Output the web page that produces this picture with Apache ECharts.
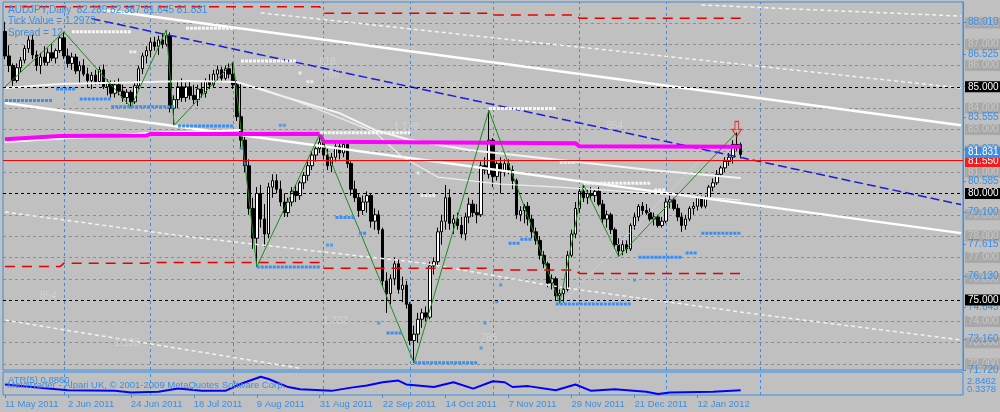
<!DOCTYPE html>
<html><head><meta charset="utf-8">
<script src="https://cdn.jsdelivr.net/npm/echarts@6/dist/echarts.min.js"></script>
<style>html,body{margin:0;padding:0;background:#c0c0c0;}#c{width:1000px;height:412px;}</style>
</head><body><div id="c"></div>
<script>
// ---------- DATA ----------
const xLabels = ['11 May 2011','2 Jun 2011','24 Jun 2011','18 Jul 2011','9 Aug 2011','31 Aug 2011','22 Sep 2011','14 Oct 2011','7 Nov 2011','29 Nov 2011','21 Dec 2011','12 Jan 2012'];
const open = [87.60,86.45,86.00,85.30,85.90,86.25,86.80,87.20,86.50,86.00,
86.40,86.15,86.60,86.35,86.70,87.30,86.45,86.10,86.40,85.75,
86.00,85.60,85.30,85.55,85.25,85.80,85.00,85.15,84.70,85.10,
84.80,84.50,84.75,84.30,85.05,85.85,86.45,86.70,87.10,86.90,
87.20,87.00,87.40,84.00,84.40,85.00,84.50,85.00,84.60,84.40,
84.90,84.70,85.25,85.10,85.60,85.80,85.40,85.85,85.60,85.10,
83.60,82.50,81.30,79.30,77.90,80.00,78.80,78.10,80.30,80.60,
80.20,79.60,79.10,79.60,80.10,79.90,80.50,80.85,81.30,81.80,
82.10,82.40,81.80,81.30,81.70,82.20,81.90,82.30,81.40,80.20,
79.80,79.20,79.60,79.90,78.70,79.00,78.30,75.90,75.30,76.00,
76.70,75.50,75.70,74.80,73.10,73.40,74.10,74.40,74.20,76.60,
76.80,78.20,78.70,79.80,78.60,78.80,78.50,78.10,78.90,79.50,
79.10,79.00,81.30,80.90,82.50,80.80,81.40,81.00,81.40,81.10,
80.60,79.00,79.20,79.40,78.80,78.20,77.80,77.10,76.70,75.80,
76.00,75.20,75.30,75.50,77.10,78.10,79.30,80.10,79.80,80.00,
79.90,80.10,79.50,78.80,79.00,78.30,77.60,77.30,77.60,77.40,
78.50,78.90,79.40,79.20,79.10,78.80,78.90,78.50,78.70,79.60,
79.70,79.30,78.90,78.50,78.80,79.30,79.40,79.80,79.40,79.80,
80.30,80.50,80.90,81.20,81.50,81.70,82.30,82.289];
const high = [88.05,86.95,86.10,86.10,86.40,86.95,87.40,87.45,86.70,86.60,
86.90,86.80,87.00,86.80,87.40,87.58,86.80,86.60,86.55,86.20,
86.30,85.90,85.70,85.80,85.95,86.05,85.35,85.30,85.30,85.40,
85.10,84.90,84.85,85.20,86.00,86.60,86.90,87.30,87.35,87.40,
87.50,87.67,87.55,84.60,85.30,85.40,85.20,85.30,85.10,85.10,
85.20,85.40,85.60,85.80,86.00,85.95,86.00,86.10,86.16,85.30,
85.20,82.70,81.60,79.80,80.30,80.40,79.50,80.50,80.90,80.90,
80.60,80.00,79.80,80.30,80.40,80.60,81.00,81.50,82.00,82.30,
82.78,82.60,82.10,81.90,82.40,82.50,82.45,82.40,81.50,80.60,
80.00,79.90,80.10,80.00,79.30,79.20,78.40,76.30,76.20,77.00,
76.90,76.10,75.90,74.90,73.80,74.40,74.60,74.70,76.80,77.00,
78.40,79.00,80.40,80.20,79.00,79.10,78.90,79.10,79.80,79.70,
79.50,81.50,81.70,83.90,82.60,81.50,81.70,81.60,81.60,81.30,
80.70,79.40,79.50,79.60,79.00,78.40,78.00,77.30,76.80,76.20,
76.10,75.50,75.60,77.30,78.30,79.60,80.30,80.43,80.20,80.30,
80.20,80.30,79.70,79.20,79.10,78.40,77.90,77.80,77.80,78.60,
79.10,79.50,79.60,79.50,79.30,79.10,79.00,78.90,79.80,79.90,
79.80,79.50,79.10,79.00,79.40,79.60,79.90,79.90,79.90,80.40,
80.70,81.10,81.30,81.70,81.90,82.50,82.87,82.387];
const low = [86.30,85.70,85.05,85.20,85.70,86.10,86.60,86.30,85.75,85.60,
86.00,86.00,86.20,86.10,86.60,86.30,85.90,85.80,85.60,85.20,
85.50,85.00,84.90,85.10,85.10,84.90,84.60,84.50,84.50,84.60,
84.30,84.20,84.05,84.20,84.90,85.60,86.10,86.40,86.70,86.50,
86.80,86.90,83.80,83.20,84.00,84.30,84.30,84.40,84.20,84.10,
84.50,84.50,84.90,85.00,85.30,85.20,85.30,85.40,84.90,83.40,
82.10,81.00,79.00,77.40,76.56,78.40,77.50,77.90,79.80,80.00,
79.40,78.90,78.90,79.40,79.60,79.70,80.20,80.60,81.10,81.50,
81.90,81.60,81.10,81.00,81.50,81.60,81.70,81.20,79.90,79.60,
78.90,79.00,79.10,78.40,78.30,78.10,75.60,74.40,74.80,75.70,
75.30,74.90,74.60,72.90,72.05,73.00,73.70,74.00,74.10,76.20,
76.60,77.60,78.30,78.30,78.10,78.30,77.90,77.80,78.60,78.90,
78.60,78.90,80.90,80.70,80.30,80.60,80.00,80.80,80.90,80.20,
78.80,78.70,78.60,78.50,77.90,77.60,76.90,76.50,75.60,75.50,
75.00,74.85,74.87,75.40,77.00,77.90,79.10,79.60,79.50,79.70,
79.60,79.40,78.60,78.40,78.10,77.40,77.04,77.10,77.20,77.30,
78.30,78.70,79.00,79.00,78.70,78.50,78.40,78.40,78.60,79.30,
79.20,78.70,78.20,78.30,78.70,79.00,79.20,79.30,79.30,79.70,
80.10,80.40,80.80,81.00,81.30,81.40,82.00,81.645];
const close = [86.45,86.00,85.30,85.90,86.25,86.80,87.20,86.50,86.00,86.40,
86.15,86.60,86.35,86.70,87.30,86.45,86.10,86.40,85.75,86.00,
85.60,85.30,85.55,85.25,85.80,85.00,85.15,84.70,85.10,84.80,
84.50,84.75,84.30,85.05,85.85,86.45,86.70,87.10,86.90,87.20,
87.00,87.40,84.00,84.40,85.00,84.50,85.00,84.60,84.40,84.90,
84.70,85.25,85.10,85.60,85.80,85.40,85.85,85.60,85.10,83.60,
82.50,81.30,79.30,77.90,80.00,78.80,78.10,80.30,80.60,80.20,
79.60,79.10,79.60,80.10,79.90,80.50,80.85,81.30,81.80,82.10,
82.40,81.80,81.30,81.70,82.20,81.90,82.30,81.40,80.20,79.80,
79.20,79.60,79.90,78.70,79.00,78.30,75.90,75.30,76.00,76.70,
75.50,75.70,74.80,73.10,73.40,74.10,74.40,74.20,76.60,76.80,
78.20,78.70,79.80,78.60,78.80,78.50,78.10,78.90,79.50,79.10,
79.00,81.30,81.10,82.50,80.80,81.40,81.00,81.40,81.10,80.60,
79.00,79.20,79.40,78.80,78.20,77.80,77.10,76.70,75.80,76.00,
75.20,75.30,75.50,77.10,78.10,79.30,80.10,79.80,80.00,79.90,
80.10,79.50,78.80,79.00,78.30,77.60,77.30,77.60,77.40,78.50,
78.90,79.40,79.20,79.10,78.80,78.90,78.50,78.70,79.60,79.70,
79.30,78.90,78.50,78.80,79.30,79.40,79.80,79.40,79.80,80.30,
80.50,80.90,81.20,81.50,81.70,82.30,82.29,81.831];

const blueTicks = [88.010,86.525,85.040,83.555,82.070,80.585,79.100,77.615,76.130,74.645,73.160,71.720];
const grayLevels = [88,87,86,84,83,82,81,79,78,77,76,74,73,72];
const blackLevels = [85,80,75];
const redLevel = 81.550;
const bidLevel = 81.831;
const separators = [15,37,58,81,103,124,146,168,192];

const zigzag = [[0,85.00],[15,87.58],[32,84.05],[41,87.67],[43,83.20],[58,86.16],[64,76.56],[80,82.78],[104,72.05],[123,83.90],[141,74.85],[147,80.43],[156,77.04],[186,82.87]];
const magenta = [[0,82.54],[14,82.70],[36,82.72],[37,82.79],[80,82.79],[81,82.43],[145,82.36],[146,82.21],[187,82.19]];
const blueTrend = [[22,88.20],[243,79.48]];
const whiteUpper = [[25,88.61],[243,83.20]];
const whiteLower = [[0,84.24],[243,78.14]];
const whiteMA1 = [[0,84.95],[14,85.13],[47,85.28],[59,85.23],[72,84.48],[85,83.77],[94,82.98],[103,82.51],[118,82.04],[141,81.57],[164,81.10],[187,80.73]];
const whiteMA2 = [[65,84.95],[80,83.92],[94,82.88],[101,81.71],[110,80.77],[126,80.44],[141,80.30],[164,80.02],[187,79.69]];
const whiteMA3 = [[0,82.42],[37,82.84],[60,82.98]];
const redTop = [[0,88.76],[80,88.76],[81,88.45],[123,88.45],[124,88.37],[145,88.37],[146,88.22],[187,88.22]];
const redBottom = [[0,76.57],[14,76.57],[15,76.73],[36,76.73],[37,76.76],[80,76.76],[81,76.49],[123,76.49],[124,76.41],[145,76.41],[146,76.25],[187,76.25]];
const dashWhite1 = [[65,88.47],[243,84.95]];
const dashWhite2 = [[177,88.84],[243,88.32]];
const dashWhite3 = [[0,79.13],[47,77.96],[106,76.74],[141,75.61],[189,74.39],[243,73.13]];
const dashWhite4 = [[0,74.06],[75,71.80]];
const cyanLine = [[141,74.73],[177,81.63]];
const blueRows = [[0,12,84.36],[13,18,84.90],[19,27,84.43],[27,43,84.07],[44,58,83.17],[64,80,76.55],[84,89,78.87],[90,92,78.13],[97,101,73.45],[104,120,72.06],[128,131,77.66],[131,134,77.85],[140,159,74.82],[161,172,77.01],[173,176,77.21],[177,187,78.13]];
const blueDots = [[60,82.12],[61,81.41],[70,83.2],[71,83.2],[82,77.58],[83,77.58],[95,73.92],[122,73.92],[121,72.75],[125,74.92],[126,75.71],[160,75.94]];
const whiteRows = [[17,32,87.59],[46,58,87.75],[60,74,86.21],[80,103,82.85],[123,140,83.99],[141,145,81.46],[147,164,80.48],[165,168,80.16]];
const whiteDots = [[32,86.64],[33,86.64],[75,85.65],[77,85.24],[78,85.24],[105,80.96],[106,79.9],[107,79.9],[108,79.9],[109,79.9]];
const fibNames = ['618','786','1.128','787','854','1.732','854','1.128','785'];
const fibPos = [[82,86.16],[83,85.56],[102,83.12],[114,84.99],[155,83.16],[84,74.01],[11,75.19],[31,72.99],[123,73.22]];
const arrowPos = [[186,83.02]];
const atr = [[0,1.73],[11,1.13],[16,0.89],[28,0.80],[32,0.57],[39,0.66],[44,1.13],[50,0.80],[56,0.80],[60,1.83],[65,2.846],[67,2.53],[72,1.35],[75,1.03],[83,0.80],[88,1.27],[92,1.59],[96,2.05],[100,2.29],[102,1.73],[109,1.36],[114,2.05],[119,1.13],[124,2.19],[127,2.05],[129,1.36],[133,1.49],[140,0.89],[145,1.73],[149,0.80],[155,1.03],[163,0.66],[166,0.338],[169,0.57],[180,0.66],[187,0.89]];
const atrScale = [2.8462, 0.3378];
const atrCurrent = 0.8860;
const tickValue = 1.2973;
const spread = 12;

// ---------- CHART ----------
const FONT = 'Liberation Sans';
const BLUE = '#3a8ee6';
const N = 244;
const cats = Array.from({length: N}, (_, i) => String(i));
const last = open.length - 1;
const candleData = open.map((o, i) => [o, close[i], low[i], high[i]]);

function ln(data, style, z) {
  return {type: 'line', data: data, xAxisIndex: 0, yAxisIndex: 0, showSymbol: false, symbol: 'none',
    lineStyle: style, z: z || 3, silent: true, animation: false, clip: true};
}
function rows(list, color) {
  return list.map(r => ln([[r[0], r[2]], [r[1], r[2]]], {color: color, width: 3, type: [3, 1]}, 6));
}
function dots(list, color) {
  return {type: 'scatter', data: list, symbol: 'rect', symbolSize: 3, itemStyle: {color: color}, z: 6, silent: true, animation: false};
}
const boxLabel = (color, bg, dy) => ({show: true, position: 'end', distance: 2, formatter: p => p.name,
  color: color, backgroundColor: bg, padding: [1, 3, 0, 3], fontSize: 10, lineHeight: 10, fontFamily: FONT, offset: [0, dy || 0]});
const lvl = p => ({yAxis: p, name: p.toFixed(3)});

const interval16 = (i) => i % 16 === 0 && i / 16 < xLabels.length;

const series = [
  {type: 'line', data: [], xAxisIndex: 0, yAxisIndex: 0, z: 1, clip: false,
    markLine: {silent: true, z: 1, symbol: ['none', 'none'], animation: false,
      data: grayLevels.map(lvl),
      lineStyle: {color: '#8e8e8e', type: [3, 3], width: 1},
      label: boxLabel('#c6c6c6', '#a8a8a8')}},
  {type: 'line', data: [], xAxisIndex: 0, yAxisIndex: 0, z: 10, clip: false,
    markLine: {silent: true, z: 10, symbol: ['none', 'none'], animation: false,
      data: blackLevels.map(lvl),
      lineStyle: {color: '#000000', type: [3, 3], width: 1},
      label: boxLabel('#ffffff', '#000000')}},
  {type: 'line', data: [], xAxisIndex: 0, yAxisIndex: 0, z: 10, clip: false,
    markLine: {silent: true, z: 10, symbol: ['none', 'none'], animation: false,
      data: [lvl(redLevel)],
      lineStyle: {color: '#ff0000', type: 'solid', width: 1},
      label: boxLabel('#ffffff', '#f01e1e', 1)}},
  {type: 'line', data: [], xAxisIndex: 0, yAxisIndex: 0, z: 11, clip: false,
    markLine: {silent: true, z: 11, symbol: ['none', 'none'], animation: false,
      data: [lvl(bidLevel)],
      lineStyle: {color: 'rgba(0,0,0,0)', width: 0.01},
      label: boxLabel('#ffffff', BLUE, -2)}},
  {type: 'candlestick', data: candleData, xAxisIndex: 0, yAxisIndex: 0, barWidth: 3, z: 2, silent: true, animation: false,
    itemStyle: {color: '#ffffff', color0: '#000000', borderColor: '#000000', borderColor0: '#000000', borderWidth: 1},
    markLine: {silent: true, z: 1, symbol: ['none', 'none'], animation: false,
      data: separators.map(i => ({xAxis: i})),
      lineStyle: {color: BLUE, type: [3, 3], width: 1}, label: {show: false}}},
  ln(whiteUpper, {color: '#ffffff', width: 2.5}),
  ln(whiteLower, {color: '#ffffff', width: 2.5}),
  ln(whiteMA1, {color: '#f4f4f4', width: 2}),
  ln(whiteMA2, {color: '#ececec', width: 1.2}),
  ln(whiteMA3, {color: '#ffffff', width: 2}),
  ln(dashWhite1, {color: '#f2f2f2', width: 1.5, type: [4, 3]}),
  ln(dashWhite2, {color: '#f2f2f2', width: 1.5, type: [4, 3]}),
  ln(dashWhite3, {color: '#f2f2f2', width: 1.5, type: [4, 3]}),
  ln(dashWhite4, {color: '#f2f2f2', width: 1.5, type: [4, 3]}),
  ln(cyanLine, {color: '#bfe6f2', width: 1, type: [2, 2]}),
  ln(blueTrend, {color: '#1c1cdc', width: 1.5, type: [9, 4]}, 4),
  ln(magenta, {color: '#ff00ff', width: 4}, 4),
  ln(redTop, {color: '#e80000', width: 1.5, type: [10, 7]}, 4),
  ln(redBottom, {color: '#e80000', width: 1.5, type: [10, 7]}, 4),
  ln(zigzag, {color: '#1e8c1e', width: 1}, 5),
  ...rows(blueRows, '#3b8ff0'),
  ...rows(whiteRows, '#f6f6f6'),
  dots(blueDots, '#3b8ff0'),
  dots(whiteDots, '#f6f6f6'),
  {type: 'scatter', data: fibPos.map((p, i) => ({value: p, name: fibNames[i]})), symbolSize: 1, z: 6, silent: true, animation: false,
    itemStyle: {color: 'rgba(0,0,0,0)'},
    label: {show: true, position: 'inside', formatter: p => p.name, color: '#d6d6d6', fontSize: 10, fontFamily: FONT}},
  {type: 'scatter', data: arrowPos, symbol: 'path://M3,0 L7,0 L7,8 L10,8 L5,15 L0,8 L3,8 Z', symbolSize: [9, 15], z: 7, silent: true, animation: false,
    itemStyle: {color: 'rgba(0,0,0,0)', borderColor: '#e8141c', borderWidth: 1.2}},
  {type: 'line', data: atr, xAxisIndex: 1, yAxisIndex: 1, showSymbol: false, symbol: 'none', z: 3, silent: true, animation: false,
    lineStyle: {color: '#0000ff', width: 2},
    markLine: {silent: true, z: 1, symbol: ['none', 'none'], animation: false,
      data: separators.map(i => ({xAxis: i})),
      lineStyle: {color: BLUE, type: [3, 3], width: 1}, label: {show: false}}}
];

const tStyle = (size) => ({color: BLUE, fontSize: size, fontFamily: FONT, fontWeight: 'normal'});
const option = {
  backgroundColor: '#c0c0c0',
  animation: false,
  title: [
    {text: 'AUDJPY,Daily  ' + open[last].toFixed(3) + ' ' + high[last].toFixed(3) + ' ' + low[last].toFixed(3) + ' ' + close[last].toFixed(3) +
      '\nTick Value = ' + tickValue.toFixed(4) + '\nSpread = ' + spread,
      left: 8, top: 4, padding: 0, textStyle: Object.assign(tStyle(10), {lineHeight: 11.5})},
    {text: 'MetaTrader - Alpari UK, © 2001-2009 MetaQuotes Software Corp.', left: 7, top: 380, padding: 0, textStyle: tStyle(9.5)},
    {text: 'ATR(5) ' + atrCurrent.toFixed(4), left: 8, top: 375, padding: 0, textStyle: tStyle(9.5)},
    {text: atrScale[0].toFixed(4), left: 967, top: 376, padding: 0, textStyle: tStyle(9.5)},
    {text: atrScale[1].toFixed(4), left: 967, top: 384, padding: 0, textStyle: tStyle(9.5)}
  ],
  grid: [
    {left: 3, right: 37, top: 2, height: 368, show: true, borderColor: BLUE, borderWidth: 1, backgroundColor: 'transparent', containLabel: false, outerBoundsMode: 'none'},
    {left: 3, right: 37, top: 372, height: 23, show: true, borderColor: BLUE, borderWidth: 1, backgroundColor: 'transparent', containLabel: false, outerBoundsMode: 'none'}
  ],
  xAxis: [
    {type: 'category', gridIndex: 0, data: cats, boundaryGap: true, axisLine: {show: false}, axisTick: {show: false}, axisLabel: {show: false}, splitLine: {show: false}},
    {type: 'category', gridIndex: 1, data: cats, boundaryGap: true, axisLine: {show: false},
      axisTick: {show: true, alignWithLabel: true, interval: interval16, length: 3, lineStyle: {color: BLUE}},
      axisLabel: {show: true, interval: interval16, formatter: (v, i) => (i % 16 === 0 ? (xLabels[i / 16] || '') : ''), align: 'left',
        color: BLUE, fontSize: 9.5, fontFamily: FONT, margin: 4},
      splitLine: {show: false}}
  ],
  yAxis: [
    {type: 'value', gridIndex: 0, position: 'right', min: 71.72, max: 88.981, z: 5,
      axisLine: {show: true, lineStyle: {color: BLUE}},
      axisTick: {show: true, customValues: blueTicks, length: 3, lineStyle: {color: BLUE}},
      axisLabel: {show: true, customValues: blueTicks, formatter: v => Number(v).toFixed(3), color: BLUE, fontSize: 10, fontFamily: FONT, margin: 5},
      splitLine: {show: false}},
    {type: 'value', gridIndex: 1, position: 'right', min: 0.2, max: 3.54, axisLine: {show: false}, axisTick: {show: false}, axisLabel: {show: false}, splitLine: {show: false}}
  ],
  series: series
};
const chart = echarts.init(document.getElementById('c'), null, {renderer: 'canvas'});
chart.setOption(option);
</script>
</body></html>
